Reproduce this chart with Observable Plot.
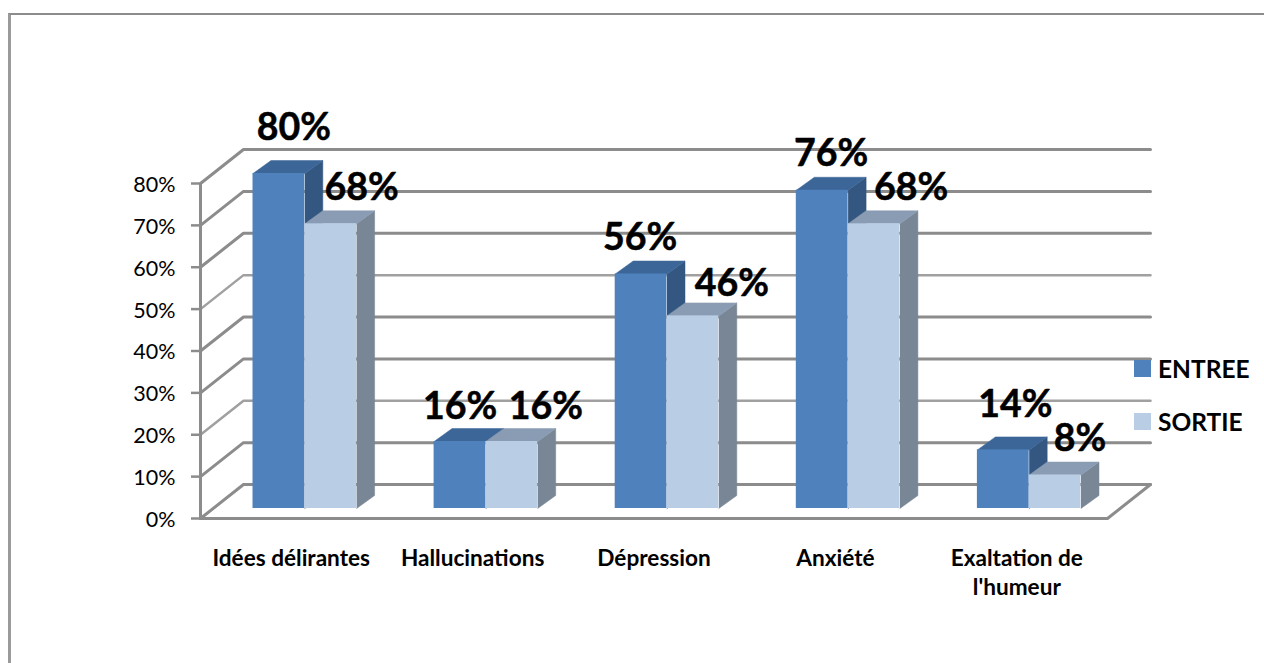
<!DOCTYPE html>
<html>
<head>
<meta charset="utf-8">
<script src="https://cdn.jsdelivr.net/npm/d3@7"></script>
<script src="https://cdn.jsdelivr.net/npm/@observablehq/plot@0.6"></script>
<style>
  html, body { margin: 0; padding: 0; background: #fff; overflow: hidden; }
  #chart { position: relative; width: 1264px; height: 663px; font-family: Lato, sans-serif; color: #000; }
  #frame { position: absolute; left: 8px; top: 13px; width: 1280px; height: 700px; border-left: 3px solid #9a9a9a; border-top: 2px solid #8c8c8c; }
  .key { position: absolute; left: 1134px; display: flex; align-items: center; height: 18px; font-weight: 700; font-size: 24.5px; }
  .key i { display: block; width: 17px; height: 17px; margin-right: 7px; flex: none; }
  svg { position: absolute; left: 0; top: 0; }
</style>
</head>
<body>
<div id="chart"><div id="frame"></div></div>
<script>
const categories = ["Idées délirantes", "Hallucinations", "Dépression", "Anxiété", "Exaltation de\nl'humeur"];
const entree = [80, 16, 56, 76, 14];
const sortie = [68, 16, 46, 68, 8];
const yTicks = [0, 10, 20, 30, 40, 50, 60, 70, 80];
const seriesNames = ["ENTREE", "SORTIE"];

// Hand-placed data-label nudges from the bar's top-centre, in pixels (as in the source chart).
const labelNudgeEntree = [[15, -46], [0, -35], [-1, -36], [9, -36], [12, -45]];
const labelNudgeSortie = [[31, -36], [34, -35], [39, -32], [37, -36], [25, -36]];
const thinGridTicks = [20, 50];

// Style
const colors = {
  grid: "#8c8c8c",
  gridThin: "#a0a0a0",
  ENTREE: {front: "#4f81bd", top: "#3d6698", side: "#335781"},
  SORTIE: {front: "#b9cde5", top: "#8a9cb3", side: "#798696"}
};

// Layout: scale ranges are set through margins; depths are expressed in data units.
const W = 1264, H = 663;
const mL = 200, mR = 157, mT = 183, mB = 145;
const pxX = (W - mL - mR) / categories.length;   // pixels per category
const pxY = (H - mT - mB) / 80;                  // pixels per percent
const ux = (p) => p / pxX, uy = (p) => p / pxY;

const wallDx = ux(43), wallDy = uy(34);
const barOffset = ux(52.5), barW = ux(51.8), barLift = uy(10), barStep = ux(181.1);
const barDx = ux(18), barDy = uy(13);

const bars = [];
seriesNames.forEach((s, k) => {
  (k === 0 ? entree : sortie).forEach((v, i) => {
    const x0 = i * barStep + barOffset;
    bars.push({series: s, k, i, v, x1: x0 + k * barW, x2: x0 + (k + 1) * barW,
      nudge: (k === 0 ? labelNudgeEntree : labelNudgeSortie)[i]});
  });
});

const poly = (pts, id, fill) => pts.map(([x, y]) => ({x, y, id, fill}));
const faces = (s, kind) => bars.filter((b) => b.series === s).flatMap((b) => {
  const y0 = barLift, y1 = b.v + barLift;
  return kind === "side"
    ? poly([[b.x2, y0], [b.x2 + barDx, y0 + barDy], [b.x2 + barDx, y1 + barDy], [b.x2, y1]], `${s}s${b.i}`, colors[s].side)
    : poly([[b.x1, y1], [b.x1 + barDx, y1 + barDy], [b.x2 + barDx, y1 + barDy], [b.x2, y1]], `${s}t${b.i}`, colors[s].top);
});

const n = categories.length;
const isThin = (t) => thinGridTicks.includes(t);
const wallLines = yTicks.flatMap((t) => [
  {x: 0, y: t, id: t}, {x: wallDx, y: t + wallDy, id: t}, {x: n + wallDx, y: t + wallDy, id: t}
]);
const floorOutline = [[0, 0], [n, 0], [n + wallDx, wallDy]].map(([x, y]) => ({x, y}));

const seriesMarks = (s) => [
  Plot.line(faces(s, "side"), {x: "x", y: "y", z: "id", fill: "fill", stroke: "fill", strokeWidth: 0.5}),
  Plot.line(faces(s, "top"), {x: "x", y: "y", z: "id", fill: "fill", stroke: "fill", strokeWidth: 0.5}),
  Plot.rect(bars.filter((b) => b.series === s), {
    x1: "x1", x2: "x2", y1: barLift, y2: (b) => b.v + barLift, fill: colors[s].front
  })
];

const plot = Plot.plot({
  width: W, height: H,
  marginLeft: mL, marginRight: mR, marginTop: mT, marginBottom: mB,
  style: {fontFamily: "Lato, sans-serif", background: "transparent", overflow: "visible"},
  x: {domain: [0, n]},
  y: {domain: [0, 80]},
  marks: [
    Plot.line(wallLines.filter((d) => !isThin(d.id)), {x: "x", y: "y", z: "id", stroke: colors.grid, strokeWidth: 3}),
    Plot.line(wallLines.filter((d) => isThin(d.id)), {x: "x", y: "y", z: "id", stroke: colors.gridThin, strokeWidth: 2.5}),
    Plot.line(floorOutline, {x: "x", y: "y", stroke: colors.grid, strokeWidth: 3}),
    Plot.ruleX([0], {y1: 0, y2: 80, stroke: colors.grid, strokeWidth: 3}),
    Plot.ruleY(yTicks, {x1: ux(-9), x2: 0, stroke: colors.grid, strokeWidth: 2.5}),
    Plot.axisY({ticks: yTicks, tickSize: 0, tickPadding: 25, tickFormat: (d) => d + "%", fontSize: 21.5, fill: "#000", label: null, dy: 1.5}),
    Plot.axisX({
      ticks: categories.map((c, i) => i + 0.5), tickSize: 0, tickPadding: 27,
      tickFormat: (d) => categories[d - 0.5], fontSize: 22.6, fontWeight: 700, fill: "#000", label: null,
      lineHeight: 1.28
    }),
    ...seriesMarks("ENTREE"),
    ...seriesMarks("SORTIE"),
    Plot.text(bars, {
      x: (b) => (b.x1 + b.x2) / 2 + ux(b.nudge[0]),
      y: (b) => b.v + barLift - uy(b.nudge[1]),
      text: (b) => b.v + "%",
      fontSize: 37.5, fontWeight: 700, fill: "#000", stroke: "#000", strokeWidth: 0.5
    })
  ]
});

const chart = document.getElementById("chart");
chart.appendChild(plot);
seriesNames.forEach((s, k) => {
  const key = document.createElement("div");
  key.className = "key";
  key.style.top = (359 + k * 53) + "px";
  key.innerHTML = `<i style="background:${colors[s].front}"></i>${s}`;
  chart.appendChild(key);
});
</script>
</body>
</html>
